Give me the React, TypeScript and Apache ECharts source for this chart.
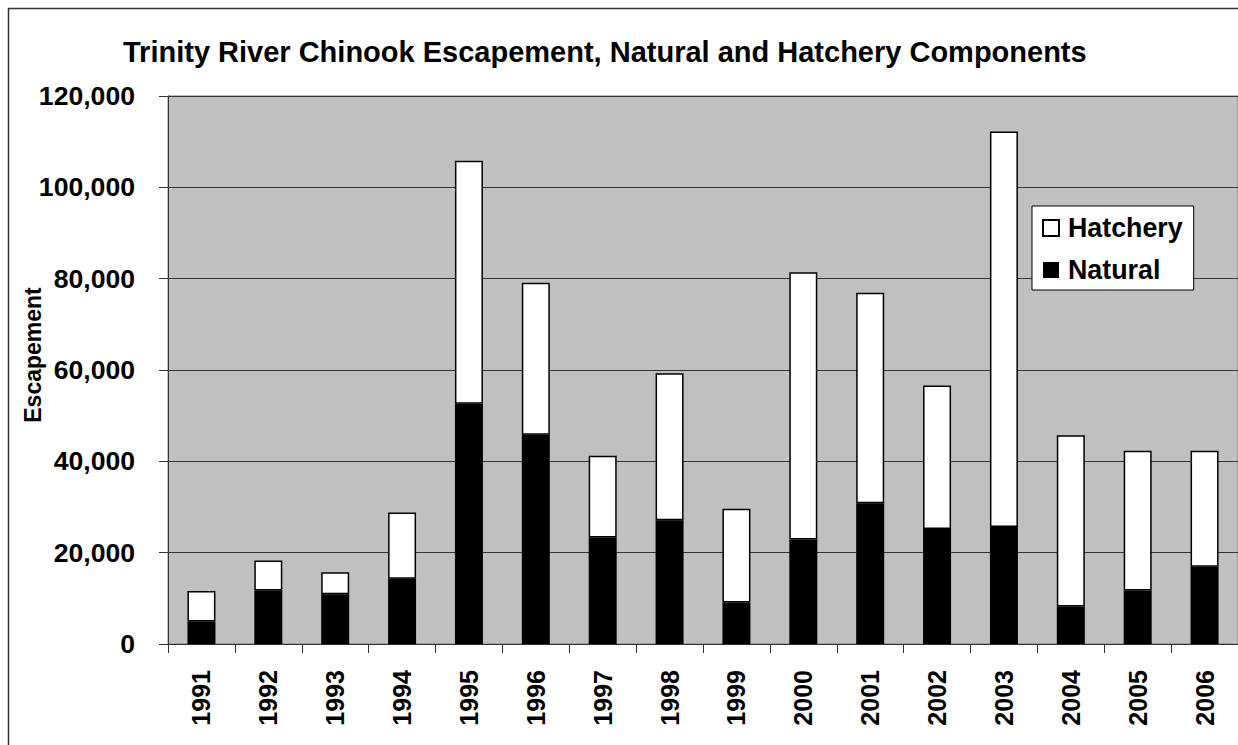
import React, { useEffect, useRef } from "react";
import * as echarts from "echarts";

const years = ["1991","1992","1993","1994","1995","1996","1997","1998","1999","2000","2001","2002","2003","2004","2005","2006"];
const natural = [4950, 11700, 10900, 14300, 52600, 45800, 23300, 27100, 9100, 22900, 30800, 25200, 25600, 8200, 11700, 16900];
const hatchery = [6650, 6600, 4800, 14500, 53200, 33300, 17900, 32200, 20500, 58500, 46100, 31400, 86600, 37500, 30600, 25400];
const yTicks = { min: 0, max: 120000, interval: 20000 };
const titleText = "Trinity River Chinook Escapement, Natural and Hatchery Components";
const yName = "Escapement";

const FONT = 'Arial, "Liberation Sans", sans-serif';

export default function App() {
  const ref = useRef<HTMLDivElement>(null);
  useEffect(() => {
    const chart = echarts.init(ref.current!, null, { renderer: "svg" });
    chart.setOption({
      animation: false,
      backgroundColor: "#ffffff",
      textStyle: { fontFamily: FONT },
      title: {
        text: titleText,
        left: 123,
        top: 37,
        padding: 0,
        textStyle: { fontFamily: FONT, fontSize: 29, fontWeight: "bold", color: "#000" },
      },
      legend: {
        orient: "vertical",
        left: 1032,
        top: 206,
        data: ["Hatchery", "Natural"],
        backgroundColor: "#ffffff",
        borderColor: "#000",
        borderWidth: 1,
        padding: [7, 11, 5, 10],
        itemWidth: 16,
        itemHeight: 16,
        itemGap: 12,
        icon: "rect",
        textStyle: { fontFamily: FONT, fontSize: 26.8, fontWeight: "bold", color: "#000", lineHeight: 30, padding: [0, 0, 0, 4] },
      },
      grid: {
        left: 168,
        top: 96,
        width: 1070,
        height: 548,
        show: true,
        backgroundColor: "#c0c0c0",
        borderColor: "#808080",
        borderWidth: 1,
      },
      xAxis: {
        type: "category",
        data: years,
        axisLine: { lineStyle: { color: "#333", width: 1 } },
        axisTick: { show: true, length: 9, lineStyle: { color: "#333" } },
        axisLabel: { rotate: 90, interval: 0, margin: 26, fontFamily: FONT, fontSize: 25, fontWeight: "bold", color: "#000" },
      },
      yAxis: {
        type: "value",
        min: yTicks.min,
        max: yTicks.max,
        interval: yTicks.interval,
        axisLine: { show: true, lineStyle: { color: "#333", width: 1 } },
        axisTick: { show: true, length: 9, lineStyle: { color: "#333" } },
        splitLine: { show: true, lineStyle: { color: "#333", width: 1 } },
        axisLabel: {
          margin: 33,
          fontFamily: FONT,
          fontSize: 26.6,
          fontWeight: "bold",
          color: "#000",
          formatter: (v: number) => v.toLocaleString("en-US"),
        },
      },
      graphic: [
        {
          type: "rect",
          shape: { x: 8.5, y: 8.5, width: 1400, height: 900 },
          style: { fill: "none", stroke: "#333", lineWidth: 1.5 },
          silent: true,
          z: 100,
        },
        {
          type: "text",
          x: 33,
          y: 355,
          rotation: Math.PI / 2,
          style: {
            text: yName,
            fontFamily: FONT,
            fontSize: 23,
            fontWeight: "bold",
            fill: "#000",
            textAlign: "center",
            textVerticalAlign: "middle",
          },
        },
      ],
      series: [
        {
          name: "Natural",
          type: "bar",
          stack: "total",
          data: natural,
          barWidth: 28,
          itemStyle: { color: "#000000" },
        },
        {
          name: "Hatchery",
          type: "bar",
          stack: "total",
          data: hatchery,
          barWidth: 28,
          itemStyle: { color: "#ffffff", borderColor: "#000000", borderWidth: 1.5 },
        },
      ],
    });
    return () => chart.dispose();
  }, []);
  return <div ref={ref} style={{ position: "absolute", left: 0, top: 0, width: 1238, height: 745 }} />;
}
